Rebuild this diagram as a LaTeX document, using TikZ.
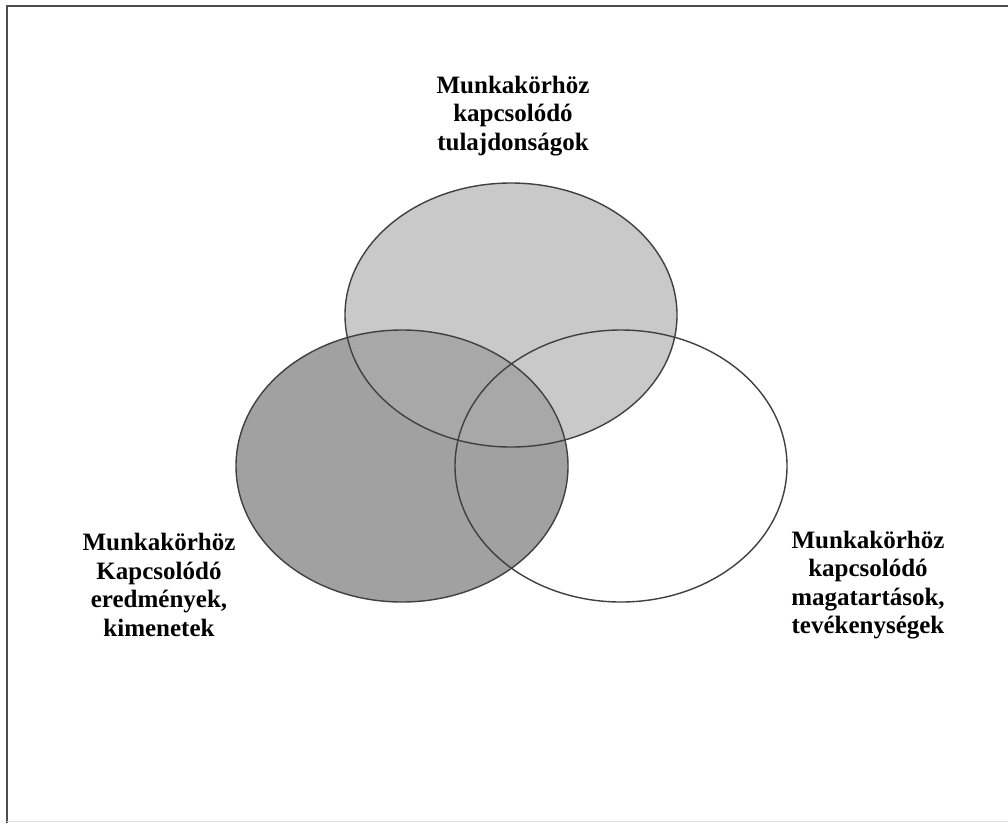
\documentclass[tikz,border=0pt]{standalone}
\usepackage{fontspec}
\setmainfont{Liberation Serif}
\definecolor{topfill}{HTML}{C9C9C9}
\definecolor{leftfill}{HTML}{A1A1A1}
\definecolor{bothfill}{HTML}{A8A8A8}
\begin{document}
\begin{tikzpicture}[x=1pt,y=-1pt,
  setline/.style={draw=black!75,line width=1.4pt},
  label/.style={align=center,font=\fontsize{25}{28.5}\selectfont\bfseries,text=black,inner sep=0pt}]
\useasboundingbox (0,0) rectangle (1008,823);
\fill[white] (0,0) rectangle (1008,823);
% frame edges
\draw[black!70,line width=2.2pt] (7,823) -- (7,6) -- (1008,6);
\draw[black!12,line width=1.5pt] (7,821.5) -- (1008,821.5);
% the three sets
\fill[topfill] (511,315) ellipse [x radius=166,y radius=132];
\fill[leftfill] (402,466) ellipse [x radius=166,y radius=136];
\begin{scope}
  \clip (511,315) ellipse [x radius=166,y radius=132];
  \fill[bothfill] (402,466) ellipse [x radius=166,y radius=136];
\end{scope}
\path[setline] (511,315) ellipse [x radius=166,y radius=132];
\path[setline] (402,466) ellipse [x radius=166,y radius=136];
\path[setline] (621,466) ellipse [x radius=166,y radius=136];
% set labels
\node[label] (top) at (513,116) {Munkakörhöz\\kapcsolódó\\tulajdonságok};
\node[label] (left) at (159,585) {Munkakörhöz\\Kapcsolódó\\eredmények,\\kimenetek};
\node[label] (right) at (868,585) {Munkakörhöz\\kapcsolódó\\magatartások,\\tevékenységek};
\end{tikzpicture}
\end{document}
